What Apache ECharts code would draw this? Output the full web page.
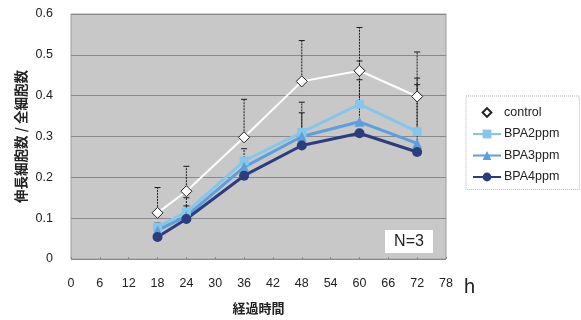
<!DOCTYPE html>
<html>
<head>
<meta charset="utf-8">
<script src="https://cdn.jsdelivr.net/npm/echarts@6/dist/echarts.min.js"></script>
<style>
  html, body { margin: 0; padding: 0; background: #ffffff; }
  #chart { width: 581px; height: 320px; }
</style>
</head>
<body>
<div id="chart"></div>
<script>
// Elapsed time (hours) and ratio of elongated cells to total cells
const hours = [18, 24, 36, 48, 60, 72];
const xTicks = [0, 6, 12, 18, 24, 30, 36, 42, 48, 54, 60, 66, 72, 78];
const yTicks = [0, 0.1, 0.2, 0.3, 0.4, 0.5, 0.6];

const control = [0.113, 0.166, 0.298, 0.435, 0.461, 0.398];
const bpa2 = [0.078, 0.115, 0.240, 0.310, 0.379, 0.312];
const bpa3 = [0.070, 0.105, 0.225, 0.300, 0.336, 0.283];
const bpa4 = [0.054, 0.098, 0.204, 0.278, 0.308, 0.262];

// Upper error-bar lengths
const controlErr = [0.062, 0.061, 0.093, 0.100, 0.106, 0.109];
const bpa2Err = [0.010, 0.035, 0.030, 0.074, 0.106, 0.131];
const bpa3Err = [0.016, 0.025, 0.020, 0.058, 0.103, 0.144];

const seriesNames = ['control', 'BPA2ppm', 'BPA3ppm', 'BPA4ppm'];
const colors = ['#ffffff', '#86c6ea', '#5d9edc', '#2c3d7e'];

const pairs = (vals) => hours.map((h, i) => [h, vals[i]]);
const errPairs = (vals, errs) => hours.map((h, i) => [h, vals[i], vals[i] + errs[i]]);

function errorBars(name, vals, errs) {
  return {
    type: 'custom',
    name: name + '-err',
    silent: true,
    z: 1,
    data: errPairs(vals, errs),
    renderItem: function (params, api) {
      const x = api.value(0);
      const p0 = api.coord([x, api.value(1)]);
      const p1 = api.coord([x, api.value(2)]);
      const cap = 3;
      const style = { stroke: '#1a1a1a', lineWidth: 1, lineDash: [2, 1] };
      return {
        type: 'group',
        children: [
          { type: 'line', shape: { x1: p0[0], y1: p0[1], x2: p1[0], y2: p1[1] }, style: style },
          { type: 'line', shape: { x1: p1[0] - cap, y1: p1[1], x2: p1[0] + cap, y2: p1[1] },
            style: { stroke: '#1a1a1a', lineWidth: 1 } }
        ]
      };
    }
  };
}

function lineSeries(idx, vals, symbol, size, extra) {
  return Object.assign({
    type: 'line',
    name: seriesNames[idx],
    data: pairs(vals),
    symbol: symbol,
    symbolSize: size,
    z: 3,
    lineStyle: { color: colors[idx], width: 3 },
    itemStyle: { color: colors[idx] }
  }, extra || {});
}

const chart = echarts.init(document.getElementById('chart'), null, { renderer: 'canvas' });

chart.setOption({
  animation: false,
  backgroundColor: '#ffffff',
  textStyle: { fontFamily: 'Liberation Sans, Arial, sans-serif' },
  grid: {
    left: 71, right: 135, top: 14, bottom: 56,
    show: true,
    backgroundColor: '#c8c8c8',
    borderColor: '#9c9c9c',
    borderWidth: 1
  },
  xAxis: {
    type: 'value',
    min: xTicks[0],
    max: xTicks[xTicks.length - 1],
    interval: 6,
    name: '経過時間',
    nameLocation: 'middle',
    nameGap: 43,
    nameMoveOverlap: false,
    nameTextStyle: { fontFamily: 'Noto Sans CJK JP', fontSize: 13, color: '#222', fontWeight: 'bold' },
    axisLine: { show: false },
    axisTick: { show: true, inside: true, length: 2, lineStyle: { color: '#888' } },
    splitLine: { show: false },
    axisLabel: { color: '#222', fontSize: 12.5, margin: 18 }
  },
  yAxis: {
    type: 'value',
    min: yTicks[0],
    max: yTicks[yTicks.length - 1],
    interval: 0.1,
    name: '伸長細胞数 / 全細胞数',
    nameLocation: 'middle',
    nameRotate: 90,
    nameGap: 43,
    nameMoveOverlap: false,
    nameTextStyle: { fontFamily: 'Noto Sans CJK JP', fontSize: 13.5, color: '#222', fontWeight: 'bold' },
    axisLine: { show: false },
    axisTick: { show: false },
    splitLine: { show: true, lineStyle: { color: '#8a8a8a', width: 1 } },
    axisLabel: {
      color: '#222', fontSize: 12.5, margin: 18,
      formatter: (v) => (v === 0 ? '0' : v.toFixed(1))
    }
  },
  legend: {
    orient: 'vertical',
    left: 466,
    top: 96,
    width: 112,
    padding: [10, 20, 6, 6],
    itemGap: 8.5,
    itemWidth: 28,
    itemHeight: 11,
    backgroundColor: '#ffffff',
    borderColor: '#b4b4b4',
    borderWidth: 1,
    borderType: 'dotted',
    textStyle: { color: '#222', fontSize: 12.5, padding: [0, 0, 0, -2] },
    data: seriesNames
  },
  graphic: [
    {
      type: 'group',
      left: 385,
      top: 230,
      children: [
        { type: 'rect', shape: { x: 0, y: 0, width: 48, height: 23 }, style: { fill: '#ffffff' } },
        { type: 'text', style: { x: 24, y: 12, text: 'N=3', fill: '#222', fontSize: 16,
          fontFamily: 'Liberation Sans, Arial, sans-serif', align: 'center', verticalAlign: 'middle' } }
      ]
    },
    {
      type: 'text',
      left: 464,
      top: 277,
      style: { text: 'h', fill: '#222', fontSize: 20, fontFamily: 'Liberation Sans, Arial, sans-serif' }
    }
  ],
  series: [
    errorBars('control', control, controlErr),
    errorBars('BPA2ppm', bpa2, bpa2Err),
    errorBars('BPA3ppm', bpa3, bpa3Err),
    lineSeries(0, control, 'diamond', 11, {
      z: 4,
      lineStyle: { color: '#ffffff', width: 2 },
      itemStyle: { color: '#ffffff', borderColor: '#222', borderWidth: 1 }
    }),
    lineSeries(1, bpa2, 'rect', 9),
    lineSeries(2, bpa3, 'triangle', 10),
    lineSeries(3, bpa4, 'circle', 10)
  ]
});
</script>
</body>
</html>
